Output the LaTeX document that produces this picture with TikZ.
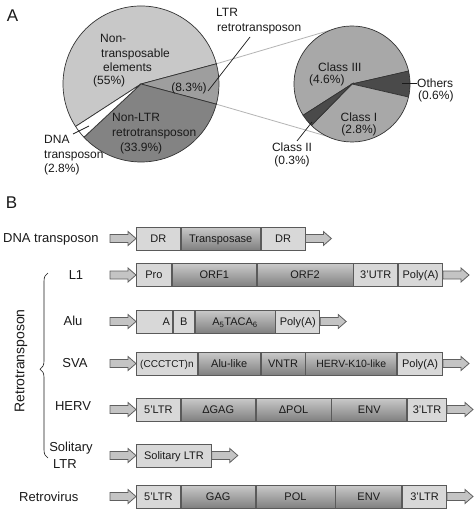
\documentclass[tikz,border=0pt]{standalone}
\usepackage{fontspec}
\setmainfont{Liberation Sans}
\usetikzlibrary{decorations.pathreplacing,calc}
\definecolor{ntcol}{HTML}{C8C8C8}
\definecolor{ltrcol}{HTML}{9E9E9E}
\definecolor{nonltrcol}{HTML}{838383}
\definecolor{classcol}{HTML}{A8A8A8}
\definecolor{darkcol}{HTML}{4A4A4A}
\definecolor{pieline}{HTML}{333333}
\definecolor{linkcol}{HTML}{B4B4B4}
\definecolor{lightcol}{HTML}{D8D8D8}
\definecolor{gradtop}{HTML}{CACACA}
\definecolor{gradmid}{HTML}{A2A2A2}
\definecolor{gradbot}{HTML}{808080}
\definecolor{boxline}{HTML}{5A5A5A}
\definecolor{arrowfill}{HTML}{C4C4C4}
\definecolor{arrowline}{HTML}{606060}
\definecolor{txt}{HTML}{1A1A1A}
\newcommand{\blkin}[1]{\filldraw[blockarr] (#1) -- ++(-8,-7) -- ++(0,3) -- ++(-18,0) -- ++(0,8) -- ++(18,0) -- ++(0,3) -- cycle;}
\newcommand{\blkout}[1]{\filldraw[blockarr] (#1) ++(0,-4) -- ++(18,0) -- ++(0,-3) -- ++(8,7) -- ++(-8,7) -- ++(0,-3) -- ++(-18,0) -- cycle;}
\begin{document}
\begin{tikzpicture}[x=1pt,y=-1pt,
  lbl/.style={inner sep=0pt, text=txt, font=\fontsize{12}{14}\selectfont, text height=8.6pt, text depth=0pt},
  rowlbl/.style={inner sep=0pt, text=txt, font=\fontsize{13}{15}\selectfont, text height=9.4pt, text depth=0pt},
  panel/.style={inner sep=0pt, text=txt, font=\fontsize{17}{19}\selectfont},
  seg/.style={draw=boxline, line width=0.8pt, minimum height=23pt, inner sep=0pt, anchor=west, text=txt,
    font=\fontsize{11}{13}\selectfont, text height=7.9pt, text depth=0pt},
  seglight/.style={seg, fill=lightcol},
  segdark/.style={seg, top color=gradtop, middle color=gradmid, bottom color=gradbot},
  blockarr/.style={draw=arrowline, fill=arrowfill, line width=0.8pt, line join=miter},
  sector/.style={draw=pieline, line width=0.7pt},
  leader/.style={draw=txt, line width=0.7pt},
  link/.style={draw=linkcol, line width=0.8pt}]
\fill[white] (0,0) rectangle (474,513);
\useasboundingbox (0,0) rectangle (474,513);

% ---------- Panel A ----------
\node[panel] (pA) at (12.5,16) {A};
\coordinate (bc) at (141,84);
\coordinate (sc) at (352,84);
\coordinate (bigTop) at ($(bc)+(-15:78)$);
\coordinate (bigBot) at ($(bc)+(15:78)$);
\coordinate (smallTop) at ($(sc)+(-112:58)$);
\coordinate (smallBot) at ($(sc)+(116:58)$);
\draw[link] (bigTop) -- (smallTop);
\draw[link] (bigBot) -- (smallBot);

% big pie
\filldraw[sector, fill=ntcol] (bc) -- ++(-15:78) arc[start angle=-15, end angle=-213, radius=78] -- cycle;
\filldraw[sector, fill=ltrcol] (bc) -- ++(15:78) arc[start angle=15, end angle=-15, radius=78] -- cycle;
\filldraw[sector, fill=nonltrcol] (bc) -- ++(137:78) arc[start angle=137, end angle=15, radius=78] -- cycle;
\filldraw[sector, fill=white] (bc) -- ++(147:78) arc[start angle=147, end angle=137, radius=78] -- cycle;

% small pie
\filldraw[sector, fill=classcol] (sc) -- ++(-12.6:58) arc[start angle=-12.6, end angle=-212.6, radius=58] -- cycle;
\filldraw[sector, fill=darkcol] (sc) -- ++(13:58) arc[start angle=13, end angle=-13, radius=58] -- cycle;
\filldraw[sector, fill=classcol] (sc) -- ++(134.4:58) arc[start angle=134.4, end angle=13, radius=58] -- cycle;
\filldraw[sector, fill=darkcol] (sc) -- ++(147.4:58) arc[start angle=147.4, end angle=134.4, radius=58] -- cycle;

% labels big pie
\node[lbl, anchor=west] (nt1) at (100,38) {Non-};
\node[lbl, anchor=west] (nt2) at (101,53) {transposable};
\node[lbl, anchor=west] (nt3) at (103,67) {elements};
\node[lbl, anchor=west] (nt4) at (93,80) {(55\%)};
\node[lbl] (ltrp) at (189,87) {(8.3\%)};
\node[lbl, anchor=west] (nl1) at (112,117) {Non-LTR};
\node[lbl, anchor=west] (nl2) at (112,132) {retrotransposon};
\node[lbl, anchor=west] (nl3) at (120,147) {(33.9\%)};
\node[lbl, anchor=west] (dn1) at (44,139) {DNA};
\node[lbl, anchor=west] (dn2) at (44,154) {transposon};
\node[lbl, anchor=west] (dn3) at (44,168) {(2.8\%)};
\node[lbl, anchor=west] (lt1) at (216,12) {LTR};
\node[lbl, anchor=west] (lt2) at (217,27) {retrotransposon};
\coordinate (ltrA) at (250,37);
\coordinate (ltrB) at (208,91);
\draw[leader] (ltrA) -- (ltrB);
\coordinate (dnaA) at (73,134);
\coordinate (dnaB) at (89,126);
\draw[leader] (dnaA) -- (dnaB);

% labels small pie
\node[lbl, anchor=west] (c31) at (318,67) {Class III};
\node[lbl, anchor=west] (c32) at (309,79) {(4.6\%)};
\node[lbl, anchor=west] (ot1) at (417,83) {Others};
\node[lbl, anchor=west] (ot2) at (418,95) {(0.6\%)};
\node[lbl] (c11) at (359,117) {Class I};
\node[lbl] (c12) at (359,129) {(2.8\%)};
\node[lbl] (c21) at (292,147) {Class II};
\node[lbl] (c22) at (292,160) {(0.3\%)};
\coordinate (otA) at (402,83);
\draw[leader] (otA) -- (ot1.west);
\coordinate (c2A) at (297,141);
\coordinate (c2B) at (312,122);
\draw[leader] (c2A) -- (c2B);

% ---------- Panel B ----------
\node[panel] (pB) at (11.5,203) {B};

% DNA transposon
\node[rowlbl, anchor=west] (lDNA) at (3,238) {DNA transposon};
\node[seglight, minimum width=44pt] (d1) at (136,238.5) {DR};
\node[segdark, minimum width=79pt] (d2) at (d1.east) {Transposase};
\node[seglight, minimum width=44pt] (d3) at (d2.east) {DR};
\blkin{d1.west}
\blkout{d3.east}

% L1
\node[rowlbl] (lL1) at (76,275) {L1};
\node[seglight, minimum width=35pt] (l1a) at (136,275) {Pro};
\node[segdark, minimum width=84pt] (l1b) at (l1a.east) {ORF1};
\node[segdark, minimum width=96pt] (l1c) at (l1b.east) {ORF2};
\node[seglight, minimum width=44pt] (l1d) at (l1c.east) {3'UTR};
\node[seglight, minimum width=44pt] (l1e) at (l1d.east) {Poly(A)};
\blkin{l1a.west}
\blkout{l1e.east}

% Alu
\node[rowlbl] (lAlu) at (73,321) {Alu};
\node[seglight, minimum width=36pt] (aa) at (136,321.5) {\makebox[31pt][r]{A}};
\node[seglight, minimum width=21pt] (ab) at (aa.east) {B};
\node[segdark, minimum width=80pt] (ac) at (ab.east) {A\textsubscript{5}TACA\textsubscript{6}};
\node[seglight, minimum width=44pt] (ad) at (ac.east) {Poly(A)};
\blkin{aa.west}
\blkout{ad.east}

% SVA
\node[rowlbl] (lSVA) at (75,363) {SVA};
\node[seglight, minimum width=61pt, font=\fontsize{10}{12}\selectfont] (sa) at (136,363.5) {(CCCTCT)n};
\node[segdark, minimum width=62pt] (sb) at (sa.east) {Alu-like};
\node[segdark, minimum width=44pt] (sc2) at (sb.east) {VNTR};
\node[segdark, minimum width=91pt, font=\fontsize{10.5}{12}\selectfont] (sd) at (sc2.east) {HERV-K10-like};
\node[seglight, minimum width=45pt] (se) at (sd.east) {Poly(A)};
\blkin{sa.west}
\blkout{se.east}

% HERV
\node[rowlbl] (lHERV) at (73,406) {HERV};
\node[seglight, minimum width=44pt] (ha) at (136,409.5) {5'LTR};
\node[segdark, minimum width=74pt] (hb) at (ha.east) {ΔGAG};
\node[segdark, minimum width=75pt] (hc) at (hb.east) {ΔPOL};
\node[segdark, minimum width=75pt] (hd) at (hc.east) {ENV};
\node[seglight, minimum width=39pt] (he) at (hd.east) {3'LTR};
\blkin{ha.west}
\blkout{he.east}

% Solitary LTR
\node[rowlbl] (lSol1) at (71,447) {Solitary};
\node[rowlbl, anchor=west] (lSol2) at (53,464) {LTR};
\node[seglight, minimum width=75pt] (so) at (136,455.5) {Solitary LTR};
\blkin{so.west}
\blkout{so.east}

% Retrovirus
\node[rowlbl, anchor=west] (lRV) at (19,497) {Retrovirus};
\node[seglight, minimum width=44pt] (ra) at (136,496.5) {5'LTR};
\node[segdark, minimum width=74pt] (rb) at (ra.east) {GAG};
\node[segdark, minimum width=79pt] (rc) at (rb.east) {POL};
\node[segdark, minimum width=66pt] (rd) at (rc.east) {ENV};
\node[seglight, minimum width=44pt] (re) at (rd.east) {3'LTR};
\blkin{ra.west}
\blkout{re.east}

% Retrotransposon brace
\node[inner sep=0pt, text=txt, font=\fontsize{14}{16}\selectfont, rotate=90] (retro) at (21,361) {Retrotransposon};
\coordinate (brBot) at (48,458);
\coordinate (brTop) at (48,273);
\draw[txt, line width=0.6pt, decorate, decoration={brace, amplitude=8pt, aspect=0.48}] (brBot) -- (brTop);
\end{tikzpicture}
\end{document}
